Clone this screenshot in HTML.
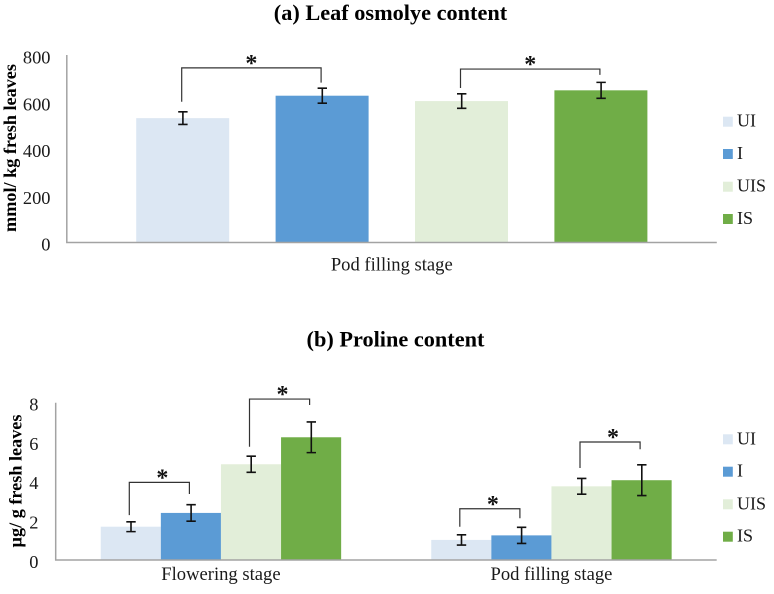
<!DOCTYPE html>
<html lang="en">
<head>
<meta charset="utf-8">
<title>Leaf osmolyte and proline content</title>
<style>
html,body{margin:0;padding:0;background:#fff;width:774px;height:594px;overflow:hidden}
svg{display:block;font-family:"Liberation Serif",serif;fill:#111}
.tick{font-size:18.4px;fill:#1a1a1a}
.cat{font-size:18.6px;fill:#1a1a1a}
.leg{font-size:18px;fill:#1a1a1a}
.title{font-size:22.3px;font-weight:bold;fill:#000}
.ytitle{font-size:18.2px;font-weight:bold;fill:#000}
.star{font-size:24px;font-weight:bold;fill:#111}
</style>
</head>
<body>
<svg id="figure" width="774" height="594" viewBox="0 0 774 594" xmlns="http://www.w3.org/2000/svg">
  <rect width="774" height="594" fill="#fff"/>

  <g id="panel-a">
    <text class="title" x="390.5" y="20" text-anchor="middle">(a) Leaf osmolye content</text>
    <text class="ytitle" transform="translate(16,148) rotate(-90)" text-anchor="middle">mmol/ kg fresh leaves</text>
    <g>
      <rect x="723" y="116.7" width="9.8" height="10" fill="#dce7f3"/>
      <text class="leg" x="737" y="126.7">UI</text>
      <rect x="723" y="149" width="9.8" height="10" fill="#5b9bd5"/>
      <text class="leg" x="737" y="159">I</text>
      <rect x="723" y="181.7" width="9.8" height="10" fill="#e2eed9"/>
      <text class="leg" x="737" y="191.7">UIS</text>
      <rect x="723" y="214" width="9.8" height="10" fill="#70ad47"/>
      <text class="leg" x="737" y="224">IS</text>
    </g>
  </g>

  <g id="panel-b">
    <text class="title" x="395.5" y="346.5" text-anchor="middle">(b) Proline content</text>
    <text class="ytitle" transform="translate(21.5,481) rotate(-90)" text-anchor="middle">µg/ g fresh leaves</text>
    <g>
      <rect x="723" y="434.3" width="9.8" height="10" fill="#dce7f3"/>
      <text class="leg" x="737" y="444.3">UI</text>
      <rect x="723" y="466.7" width="9.8" height="10" fill="#5b9bd5"/>
      <text class="leg" x="737" y="476.7">I</text>
      <rect x="723" y="499.3" width="9.8" height="10" fill="#e2eed9"/>
      <text class="leg" x="737" y="509.3">UIS</text>
      <rect x="723" y="531.7" width="9.8" height="10" fill="#70ad47"/>
      <text class="leg" x="737" y="541.7">IS</text>
    </g>
  </g>
</svg>

<script>
// ---- shared ----
const seriesNames = ['UI', 'I', 'UIS', 'IS'];
const seriesColors = ['#dce7f3', '#5b9bd5', '#e2eed9', '#70ad47'];

// ---- panel (a) data ----
const aCategories = ['Pod filling stage'];
const aTicks = [0, 200, 400, 600, 800];
const aValues = [[532], [628], [605], [651]];
const aErrors = [[27], [32], [31], [34]];
// Significance brackets: category, left/right series, value at left foot, top, right foot
const aBracketCategory = [0, 0];
const aBracketSeries = [[0, 1], [2, 3]];
const aBracketLeft = [602, 661];
const aBracketTop = [747, 742];
const aBracketRight = [684, 717];

// ---- panel (b) data ----
const bCategories = ['Flowering stage', 'Pod filling stage'];
const bTicks = [0, 2, 4, 6, 8];
const bValues = [[1.69, 1.02], [2.39, 1.25], [4.86, 3.74], [6.23, 4.05]];
const bErrors = [[0.25, 0.26], [0.42, 0.41], [0.41, 0.40], [0.78, 0.78]];
const bBracketCategory = [0, 0, 1, 1];
const bBracketSeries = [[0, 1], [2, 3], [0, 1], [2, 3]];
const bBracketLeft = [2.28, 5.75, 1.69, 4.67];
const bBracketTop = [3.94, 8.17, 2.60, 5.99];
const bBracketRight = [3.35, 7.87, 2.12, 5.62];

const NS = 'http://www.w3.org/2000/svg';
function make(parent, tag, attrs, text) {
  const el = document.createElementNS(NS, tag);
  for (const k in attrs) el.setAttribute(k, attrs[k]);
  if (text !== undefined) el.textContent = text;
  parent.appendChild(el);
  return el;
}

function drawPanel(root, o) {
  const yMax = o.ticks[o.ticks.length - 1];
  const yScale = v => o.base - (v / yMax) * (o.base - o.top);
  const catW = (o.right - o.left) / o.categories.length;
  const barX = (c, s) => o.left + c * catW + o.margin + s * o.step;
  const barMid = (c, s) => barX(c, s) + o.barW / 2;

  o.values.forEach((vals, s) => {
    vals.forEach((v, c) => {
      const bar = make(root, 'rect', {
        x: barX(c, s), y: yScale(v), width: o.barW, height: o.base - yScale(v), fill: seriesColors[s]
      });
      
      
    });
  });

  const axis = make(root, 'path', {
    d: 'M' + o.left + ' ' + o.axisTop + 'V' + o.base + 'H' + o.right,
    fill: 'none', stroke: '#a3a3a3', 'stroke-width': 1.5
  });
  
  

  o.ticks.forEach(t => {
    const label = make(root, 'text', {
      class: 'tick', x: o.tickX, y: yScale(t) + 8, 'text-anchor': 'end'
    }, String(t));
    
    
  });

  o.categories.forEach((name, c) => {
    const label = make(root, 'text', {
      class: 'cat', x: o.left + (c + 0.5) * catW, y: o.catY, 'text-anchor': 'middle'
    }, name);
    
    
  });

  o.errors.forEach((errs, s) => {
    errs.forEach((e, c) => {
      const x = barMid(c, s) + 0.2;
      const val = o.values[s][c];
      const y1 = yScale(val + e);
      const y2 = yScale(val - e);
      const whisker = make(root, 'path', {
        d: 'M' + (x - 4.7) + ' ' + y1 + 'H' + (x + 4.7) + 'M' + x + ' ' + y1 + 'V' + y2 + 'M' + (x - 4.7) + ' ' + y2 + 'H' + (x + 4.7),
        fill: 'none', stroke: '#111', 'stroke-width': 1.6
      });
      
      
    });
  });

  o.bracketCategory.forEach((c, i) => {
    const xl = barMid(c, o.bracketSeries[i][0]) - o.bracketShift;
    const xr = barMid(c, o.bracketSeries[i][1]) - o.bracketShift;
    const yt = yScale(o.bracketTop[i]);
    const bracket = make(root, 'path', {
      d: 'M' + xl + ' ' + yScale(o.bracketLeft[i]) + 'V' + yt + 'H' + xr + 'V' + yScale(o.bracketRight[i]),
      fill: 'none', stroke: '#333', 'stroke-width': 1.2
    });
    
    
    const star = make(root, 'text', {
      class: 'star', x: (xl + xr) / 2 + o.starShift, y: yt + 3, 'text-anchor': 'middle'
    }, '*');
    
    
  });
}

drawPanel(document.getElementById('panel-a'), {
  categories: aCategories, ticks: aTicks, values: aValues, errors: aErrors,
  bracketCategory: aBracketCategory, bracketSeries: aBracketSeries,
  bracketLeft: aBracketLeft, bracketTop: aBracketTop, bracketRight: aBracketRight,
  left: 66.8, right: 716.8, top: 55.5, axisTop: 55, base: 242.5,
  margin: 69.4, barW: 93, step: 139.4, tickX: 50.5, catY: 270.5,
  bracketShift: 1, starShift: 0
});

drawPanel(document.getElementById('panel-b'), {
  categories: bCategories, ticks: bTicks, values: bValues, errors: bErrors,
  bracketCategory: bBracketCategory, bracketSeries: bBracketSeries,
  bracketLeft: bBracketLeft, bracketTop: bBracketTop, bracketRight: bBracketRight,
  left: 55.7, right: 716.7, top: 402.4, axisTop: 402.7, base: 560,
  margin: 45.05, barW: 60.1, step: 60.1, tickX: 38.5, catY: 580,
  bracketShift: 1.5, starShift: 3
});
</script>
</body>
</html>
